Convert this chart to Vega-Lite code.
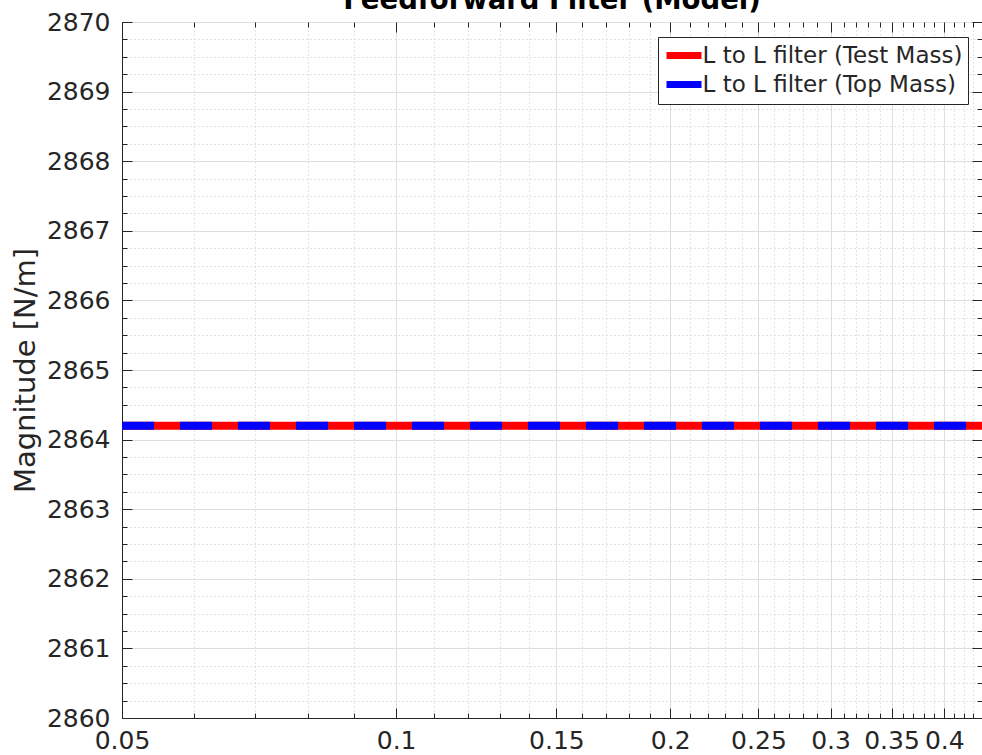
{
  "$schema": "https://vega.github.io/schema/vega-lite/v6.json",
  "autosize": "none",
  "width": 860,
  "height": 696,
  "padding": {"left": 122, "top": 22, "right": 0, "bottom": 37},
  "background": "white",
  "title": {"text": "Feedforward Filter (Model)", "font": "DejaVu Sans", "fontSize": 27.5, "fontWeight": "bold", "color": "#000000", "anchor": "middle", "baseline": "alphabetic", "offset": -26},
  "config": {
    "view": {"stroke": "#262626", "strokeWidth": 1},
    "axis": {"labelFont": "DejaVu Sans", "titleFont": "DejaVu Sans", "labelColor": "#262626", "titleColor": "#262626", "domainColor": "#262626", "tickColor": "#262626"}
  },
  "datasets": {
    "lines": [
      {"f": 0.05, "mag": 2864.2, "series": "L to L filter (Test Mass)"},
      {"f": 0.1, "mag": 2864.2, "series": "L to L filter (Test Mass)"},
      {"f": 0.2, "mag": 2864.2, "series": "L to L filter (Test Mass)"},
      {"f": 0.3, "mag": 2864.2, "series": "L to L filter (Test Mass)"},
      {"f": 0.4, "mag": 2864.2, "series": "L to L filter (Test Mass)"},
      {"f": 0.44, "mag": 2864.2, "series": "L to L filter (Test Mass)"},
      {"f": 0.05, "mag": 2864.2, "series": "L to L filter (Top Mass)"},
      {"f": 0.1, "mag": 2864.2, "series": "L to L filter (Top Mass)"},
      {"f": 0.2, "mag": 2864.2, "series": "L to L filter (Top Mass)"},
      {"f": 0.3, "mag": 2864.2, "series": "L to L filter (Top Mass)"},
      {"f": 0.4, "mag": 2864.2, "series": "L to L filter (Top Mass)"},
      {"f": 0.44, "mag": 2864.2, "series": "L to L filter (Top Mass)"}
    ]
  },
  "layer": [
    {
      "data": {"name": "lines"},
      "transform": [{"filter": "datum.series === 'L to L filter (Test Mass)'"}],
      "mark": {"type": "line", "strokeWidth": 8, "clip": true},
      "encoding": {
        "x": {"field": "f", "type": "quantitative", "scale": {"type": "log", "domain": [0.05, 0.44], "nice": false},
          "axis": {"orient": "bottom", "values": [0.06,0.07,0.08,0.09,0.11,0.12,0.13,0.14,0.16,0.17,0.18,0.19,0.21,0.22,0.23,0.24,0.26,0.27,0.28,0.29,0.31,0.32,0.33,0.34,0.36,0.37,0.38,0.39,0.41,0.42,0.43], "labels": false, "domain": false, "ticks": true, "tickSize": -5, "grid": true, "gridColor": "#c8c8c8", "gridDash": [1, 3], "gridWidth": 1, "title": null}},
        "y": {"field": "mag", "type": "quantitative", "scale": {"domain": [2860, 2870], "nice": false, "zero": false},
          "axis": {"orient": "left", "values": [2860.25,2860.5,2860.75,2861.25,2861.5,2861.75,2862.25,2862.5,2862.75,2863.25,2863.5,2863.75,2864.25,2864.5,2864.75,2865.25,2865.5,2865.75,2866.25,2866.5,2866.75,2867.25,2867.5,2867.75,2868.25,2868.5,2868.75,2869.25,2869.5,2869.75], "labels": false, "domain": false, "ticks": true, "tickSize": -5, "grid": true, "gridColor": "#c8c8c8", "gridDash": [1, 3], "gridWidth": 1, "title": null}},
        "color": {"field": "series", "type": "nominal", "scale": {"domain": ["L to L filter (Test Mass)", "L to L filter (Top Mass)"], "range": ["#ff0000", "#0000ff"]},
          "legend": {"orient": "none", "legendX": 536, "legendY": 15, "title": null, "symbolType": "M-1.75,0H1.75", "symbolStrokeWidth": 7, "symbolSize": 400, "symbolOffset": 7.5, "labelFontSize": 23, "labelFont": "DejaVu Sans", "labelColor": "#262626", "fillColor": "white", "strokeColor": "#262626", "padding": 5, "labelOffset": 5, "labelLimit": 400, "rowPadding": 0}}
      }
    },
    {
      "data": {"name": "lines"},
      "transform": [{"filter": "datum.series === 'L to L filter (Top Mass)'"}],
      "mark": {"type": "line", "strokeWidth": 8, "strokeDash": [32, 26], "clip": true},
      "encoding": {
        "x": {"field": "f", "type": "quantitative", "scale": {"type": "log", "domain": [0.05, 0.44], "nice": false},
          "axis": {"orient": "bottom", "values": [0.05,0.1,0.15,0.2,0.25,0.3,0.35,0.4], "format": "~g", "labelFontSize": 25, "labelPadding": 20, "domain": true, "ticks": true, "tickSize": -10, "grid": true, "gridColor": "#dedede", "gridWidth": 1, "title": null, "labelOverlap": false, "labelFlush": false}},
        "y": {"field": "mag", "type": "quantitative", "scale": {"domain": [2860, 2870], "nice": false, "zero": false},
          "axis": {"orient": "left", "values": [2860,2861,2862,2863,2864,2865,2866,2867,2868,2869,2870], "format": "d", "labelFontSize": 25, "labelPadding": 22, "domain": true, "ticks": true, "tickSize": -10, "grid": true, "gridColor": "#dedede", "gridWidth": 1, "title": "Magnitude [N/m]", "titleFontSize": 29, "titleFontWeight": "normal", "titlePadding": 6, "labelOverlap": false, "labelFlush": false}},
        "color": {"field": "series", "type": "nominal"}
      }
    },
    {
      "data": {"name": "lines"},
      "mark": {"type": "line", "opacity": 0},
      "encoding": {
        "x": {"field": "f", "type": "quantitative", "scale": {"type": "log", "domain": [0.05, 0.44], "nice": false},
          "axis": {"orient": "top", "values": [0.05,0.1,0.15,0.2,0.25,0.3,0.35,0.4], "labels": false, "domain": false, "ticks": true, "tickSize": -10, "grid": false, "title": null}},
        "y": {"field": "mag", "type": "quantitative", "scale": {"domain": [2860, 2870], "nice": false, "zero": false},
          "axis": {"orient": "right", "values": [2860,2861,2862,2863,2864,2865,2866,2867,2868,2869,2870], "labels": false, "domain": false, "ticks": true, "tickSize": -10, "grid": false, "title": null}}
      }
    },
    {
      "data": {"name": "lines"},
      "mark": {"type": "line", "opacity": 0},
      "encoding": {
        "x": {"field": "f", "type": "quantitative", "scale": {"type": "log", "domain": [0.05, 0.44], "nice": false},
          "axis": {"orient": "top", "values": [0.06,0.07,0.08,0.09,0.11,0.12,0.13,0.14,0.16,0.17,0.18,0.19,0.21,0.22,0.23,0.24,0.26,0.27,0.28,0.29,0.31,0.32,0.33,0.34,0.36,0.37,0.38,0.39,0.41,0.42,0.43], "labels": false, "domain": false, "ticks": true, "tickSize": -5, "grid": false, "title": null}},
        "y": {"field": "mag", "type": "quantitative", "scale": {"domain": [2860, 2870], "nice": false, "zero": false},
          "axis": {"orient": "right", "values": [2860.25,2860.5,2860.75,2861.25,2861.5,2861.75,2862.25,2862.5,2862.75,2863.25,2863.5,2863.75,2864.25,2864.5,2864.75,2865.25,2865.5,2865.75,2866.25,2866.5,2866.75,2867.25,2867.5,2867.75,2868.25,2868.5,2868.75,2869.25,2869.5,2869.75], "labels": false, "domain": false, "ticks": true, "tickSize": -5, "grid": false, "title": null}}
      }
    }
  ],
  "resolve": {"axis": {"x": "independent", "y": "independent"}}
}
